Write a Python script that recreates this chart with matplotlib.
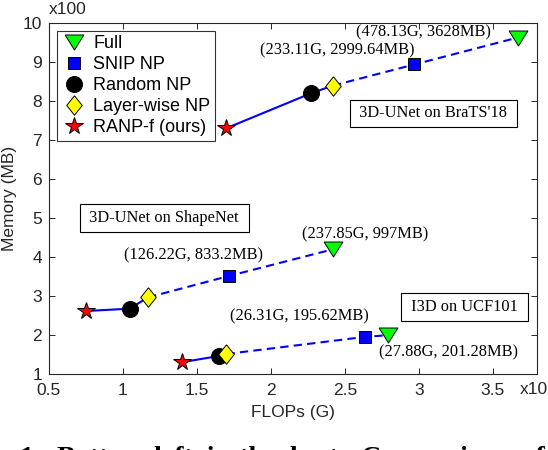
import numpy as np
import matplotlib
matplotlib.use('Agg')
import matplotlib.pyplot as plt
from matplotlib.lines import Line2D

# order of points in each series: Full, SNIP NP, Random NP, Layer-wise NP, RANP-f
methods = ['Full', 'SNIP NP', 'Random NP', 'Layer-wise NP', 'RANP-f (ours)']

# plotted positions (x in x10 G, y in x100 MB as drawn on the axes)
brats_x = [3.67, 2.97, 2.27, 2.42, 1.70]
brats_y = [9.62, 8.93, 8.19, 8.39, 7.30]
shapenet_x = [2.42, 1.72, 1.045, 1.17, 0.75]
shapenet_y = [4.20, 3.52, 2.68, 2.97, 2.62]
ucf_x = [2.79, 2.64, 1.65, 1.70, 1.40]
ucf_y = [2.00, 1.96, 1.47, 1.52, 1.31]

# annotations
ann_text = ['(478.13G, 3628MB)', '(233.11G, 2999.64MB)', '(237.85G, 997MB)',
            '(126.22G, 833.2MB)', '(26.31G, 195.62MB)', '(27.88G, 201.28MB)']
ann_x = [3.03, 2.45, 2.64, 1.48, 2.19, 3.20]
ann_y = [9.74, 9.30, 4.57, 4.05, 2.47, 1.55]

box_text = ["3D-UNet on BraTS'18", '3D-UNet on ShapeNet', 'I3D on UCF101']
box_x = [3.10, 1.28, 3.31]
box_y = [7.68, 5.00, 2.72]

sans = ['Liberation Sans', 'DejaVu Sans']
serif = ['Liberation Serif', 'DejaVu Serif']
plt.rcParams['font.family'] = sans

# marker shapes similar to matlab
tri = [(-1, 0.8), (1, 0.8), (0, -0.8), (-1, 0.8)]
dia = [(0, 1), (0.8, 0), (0, -1), (-0.8, 0), (0, 1)]
mk = [tri, 's', 'o', dia, '*']
ms = [13.5, 8.5, 11.5, 14, 13]
fc = ['#00ff00', '#0000ff', 'k', '#ffff00', '#ff0000']

fig = plt.figure(figsize=(5.48, 4.5), dpi=100)
ax = fig.add_axes([0.0894, 0.1682, 0.8906, 0.7814])

for xs, ys in [(brats_x, brats_y), (shapenet_x, shapenet_y), (ucf_x, ucf_y)]:
    # solid: RANP -> Random -> Layer-wise, dashed: Layer-wise -> SNIP -> Full
    ax.plot([xs[4], xs[2], xs[3]], [ys[4], ys[2], ys[3]], '-', color='#0000ff', lw=1.5, zorder=2)
    ax.plot([xs[3], xs[1], xs[0]], [ys[3], ys[1], ys[0]], color='#0000ff', lw=1.5,
            linestyle=(0, (4, 2.5)), zorder=2)
    for i in range(5):
        ax.plot(xs[i], ys[i], linestyle='none', marker=mk[i], markersize=ms[i],
                markerfacecolor=fc[i], markeredgecolor='k', markeredgewidth=0.7, zorder=3)

for t, x, y in zip(ann_text, ann_x, ann_y):
    ax.text(x, y, t, ha='center', va='center', fontsize=11.8, family=serif)

for t, x, y in zip(box_text, box_x, box_y):
    ax.text(x, y, ' ' + t + ' ', ha='center', va='center', fontsize=11.8, family=serif,
            bbox=dict(boxstyle='square,pad=0.35', fc='white', ec='k', lw=0.8))

handles = [Line2D([], [], linestyle='none', marker=mk[i], markersize=ms[i],
                  markerfacecolor=fc[i], markeredgecolor='k', markeredgewidth=0.7)
           for i in range(5)]
leg = ax.legend(handles, methods, loc='upper left', fontsize=13, frameon=True,
                fancybox=False, edgecolor='k', handlelength=1.4, handletextpad=0.35,
                labelspacing=0.22, borderpad=0.25, borderaxespad=0.45)
leg.get_frame().set_linewidth(0.8)

ax.set_xlim(0.5, 3.8)
ax.set_ylim(1, 10)
ax.set_xticks([0.5, 1, 1.5, 2, 2.5, 3, 3.5])
ax.set_xticklabels(['0.5', '1', '1.5', '2', '2.5', '3', '3.5'])
ax.set_yticks(range(1, 11))
ax.tick_params(direction='in', length=4, width=0.7, labelsize=12.5, top=True, right=True,
               colors='#262626', labelcolor='#262626')
ax.tick_params(axis='x', pad=6)
ax.tick_params(axis='y', pad=5)
for s in ax.spines.values():
    s.set_linewidth(0.8)
    s.set_color('#262626')

ax.set_xlabel('FLOPs (G)', fontsize=12.5, color='#262626', labelpad=5)
ax.set_ylabel('Memory (MB)', fontsize=12.5, color='#262626', labelpad=4)
fig.text(49 / 548, 1 - 17 / 450, 'x100', fontsize=12.5, color='#262626', ha='left', va='bottom')
fig.text(1.0, 1 - 389 / 450, 'x10', fontsize=12.5, color='#262626', ha='right', va='center')

# caption from the page, cut off at the bottom
fig.text(20 / 548, 1 - 446 / 450, '1:  Bottom-left  is  the  best:  Comparison  of',
         fontsize=20, fontweight='bold', family=serif, ha='left', va='top')

fig.savefig('out.png', dpi=100)
